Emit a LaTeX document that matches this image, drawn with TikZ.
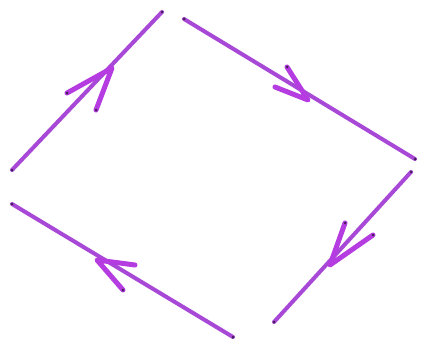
\documentclass[tikz,border=0pt]{standalone}
\definecolor{pen}{RGB}{168,72,214}
\definecolor{penhead}{RGB}{180,60,225}
\definecolor{pendot}{RGB}{70,30,90}
\tikzset{
  edgeline/.style={draw=pen, line width=4pt, line cap=round},
  barb/.style={draw=penhead, line width=5pt, line cap=round, line join=round},
  enddot/.style={fill=pendot, circle, inner sep=0pt, minimum size=3pt},
}
\begin{document}
\begin{tikzpicture}[x=1pt,y=-1pt]
\useasboundingbox (0,0) rectangle (423,345);
% line 1 (up-right)
\coordinate (a1) at (12,170); \coordinate (b1) at (162,12);
\coordinate (t1) at (112,68); \coordinate (p1) at (67,93); \coordinate (q1) at (96,110);
% line 2 (down-right)
\coordinate (a2) at (184,19); \coordinate (b2) at (415,159);
\coordinate (t2) at (308,100); \coordinate (p2) at (287,67); \coordinate (q2) at (275,87);
% line 3 (down-left)
\coordinate (a3) at (411,172); \coordinate (b3) at (274,322);
\coordinate (t3) at (330,265); \coordinate (p3) at (345,223); \coordinate (q3) at (373,235);
% line 4 (up-left)
\coordinate (a4) at (233,337); \coordinate (b4) at (12,204);
\coordinate (t4) at (97,260); \coordinate (p4) at (135,265); \coordinate (q4) at (123,290);
\foreach \i in {1,2,3,4}{
  \draw[edgeline] (a\i) -- (b\i);
  \draw[barb] (p\i) -- (t\i) -- (q\i);
}
\foreach \c in {a1,b1,p1,q1,a2,b2,p2,a3,b3,p3,q3,a4,b4,q4}{
  \node[enddot] at (\c) {};
}
\end{tikzpicture}
\end{document}
